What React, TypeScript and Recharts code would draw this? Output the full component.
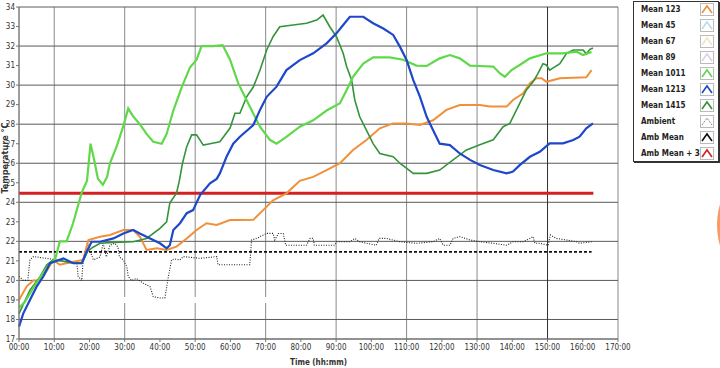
import { LineChart, Line, XAxis, YAxis, CartesianGrid, ReferenceLine } from 'recharts';

// hours since start / temperature (°C)
const mean123T = [0, 2.2, 4.1, 6, 7.9, 9.7, 11.6, 15.4, 18.2, 19.7, 23, 25.8, 29.6, 32.4, 34.3, 36.2, 39.1, 41.9, 44.7, 47.6, 50.4, 53.2, 56.1, 59.9, 62.7, 66.5, 69.3, 72.1, 75.9, 79.7, 83.5, 87.3, 91.1, 94.8, 98.6, 102.4, 106.2, 110, 113.8, 117.5, 121.3, 125.1, 130.8, 133.6, 138.4, 140.2, 143.1, 145, 146.9, 148.3, 149.7, 153.5, 161, 162.5];
const mean123V = [19.0, 19.7, 20.0, 20.0, 20.5, 21.05, 20.8, 20.96, 21.05, 22.07, 22.24, 22.33, 22.58, 22.58, 22.24, 21.56, 21.64, 21.56, 21.73, 22.15, 22.58, 22.93, 22.84, 23.09, 23.09, 23.1, 23.6, 24.1, 24.46, 25.1, 25.3, 25.65, 26.0, 26.68, 27.19, 27.79, 28.04, 28.04, 27.96, 28.2, 28.73, 28.98, 28.98, 28.9, 28.9, 29.24, 29.58, 30.1, 30.35, 30.35, 30.17, 30.35, 30.4, 30.77];

const mean1011T = [0, 1.7, 4, 6.5, 8.5, 10.2, 11.6, 13.5, 15.3, 17.8, 19.3, 20.3, 21.3, 22.4, 23.8, 25, 25.8, 27.7, 29.6, 31, 32.4, 34.3, 36.2, 38.1, 40.5, 41.9, 43.8, 46.2, 48.5, 50.4, 51.8, 55.1, 57.8, 59.9, 62.2, 65.5, 68.4, 71.2, 73.1, 75.9, 79.7, 83.5, 87.3, 91.1, 93, 94.8, 97.7, 100.5, 105.2, 109, 112.8, 115.7, 119.4, 122.3, 125.1, 128, 130.8, 134.6, 136.5, 137.9, 139.8, 142.1, 145, 149.7, 154.4, 158.2, 160.1, 162.5];
const mean1011V = [18.6, 18.9, 19.6, 20.3, 20.8, 21.05, 22.0, 22.0, 22.9, 24.5, 25.1, 27.0, 26.2, 25.2, 24.9, 25.3, 26.0, 26.85, 27.9, 28.8, 28.4, 28.0, 27.5, 27.1, 27.0, 27.5, 28.7, 29.9, 30.9, 31.3, 32.0, 32.0, 32.05, 31.3, 30.1, 28.9, 27.87, 27.2, 27.0, 27.35, 27.87, 28.2, 28.7, 29.07, 29.75, 30.43, 31.1, 31.42, 31.42, 31.3, 31.0, 30.98, 31.37, 31.54, 31.37, 31.0, 30.98, 30.95, 30.6, 30.43, 30.77, 31.03, 31.37, 31.63, 31.63, 31.71, 31.54, 31.7];

const mean1213T = [0, 1.2, 3.1, 5, 6.9, 8.8, 12.6, 15.4, 17.8, 19.2, 20.6, 23, 26.8, 29.6, 32.4, 34.3, 37.2, 40, 41.9, 42.8, 43.8, 45.7, 47.6, 49.4, 51.4, 54.2, 56.1, 57, 58.9, 60.8, 62.7, 66.5, 68.4, 70.3, 73.1, 75.9, 79.7, 83.5, 87.3, 90.1, 92, 93.9, 97.7, 100.5, 103.4, 106.2, 108.1, 110, 111.9, 113.8, 115.7, 117.5, 119.4, 122.3, 125.1, 128, 130.8, 134.6, 138.4, 140.2, 142.1, 145, 147.8, 150.6, 154.4, 157.3, 159.1, 161, 162.9];
const mean1213V = [17.63, 18.3, 19.0, 19.68, 20.2, 20.88, 21.13, 20.88, 20.88, 21.47, 21.98, 21.98, 22.15, 22.4, 22.58, 22.4, 22.15, 21.9, 21.64, 21.8, 22.58, 22.93, 23.44, 23.6, 24.37, 24.97, 25.2, 25.48, 26.33, 27.0, 27.36, 27.96, 28.73, 29.4, 29.92, 30.77, 31.28, 31.63, 32.14, 32.65, 33.08, 33.5, 33.5, 33.17, 32.9, 32.57, 31.97, 31.29, 30.26, 29.4, 28.38, 27.7, 27.0, 26.93, 26.5, 26.17, 25.91, 25.65, 25.48, 25.57, 25.9, 26.33, 26.59, 27.02, 27.02, 27.19, 27.36, 27.79, 28.04];

const mean1415T = [0, 3.1, 6, 7.9, 9.7, 12, 15, 18, 19.5, 21, 23, 27, 32.4, 36.2, 40, 41.9, 42.8, 44.7, 45.5, 46.4, 47.6, 49, 50.4, 52.3, 54.2, 57, 59.9, 61.3, 62.7, 64.6, 66.5, 68.4, 70.3, 72.1, 74, 77.8, 81.6, 84.5, 86.3, 88.2, 90.1, 92, 93, 94.4, 95.3, 96.7, 98.6, 100.5, 102.4, 106.2, 108.1, 111.9, 115.7, 119.4, 123.2, 127, 130.8, 134.6, 137.4, 139.3, 141.2, 142.6, 144, 145.9, 147.3, 148.7, 149.7, 150.6, 153.5, 155.4, 157.3, 160.1, 161, 162, 162.9];
const mean1415V = [18.3, 19.5, 20.2, 20.8, 21.05, 21.0, 20.9, 20.9, 21.5, 21.7, 21.9, 21.95, 21.98, 22.15, 22.67, 23.0, 23.96, 24.47, 25.1, 26.0, 26.85, 27.45, 27.45, 26.93, 27.0, 27.1, 27.8, 28.56, 28.56, 29.4, 29.9, 30.77, 31.8, 32.48, 32.99, 33.08, 33.17, 33.33, 33.59, 32.99, 32.48, 31.63, 30.94, 30.26, 29.24, 28.38, 27.7, 27.0, 26.5, 26.33, 26.0, 25.48, 25.48, 25.65, 26.17, 26.68, 26.95, 27.2, 27.87, 28.04, 28.73, 29.24, 29.75, 30.17, 30.6, 31.1, 31.03, 30.77, 31.1, 31.63, 31.8, 31.8, 31.6, 31.83, 31.9];

const ambientT = [0, 1.2, 2.5, 3.1, 4.1, 6.9, 9, 12, 16.4, 16.8, 17.8, 18.2, 19.4, 20.2, 21.1, 23, 23.9, 24.8, 25.8, 27.2, 28.1, 28.5, 29.6, 30.6, 31, 32, 33.3, 35.3, 37.2, 38.1, 40, 41.4, 42.4, 43.3, 44.2, 45.7, 46.6, 51.4, 56.1, 56.5, 65.5, 66, 67.4, 70.3, 72.1, 72.6, 73.6, 75, 75.7, 81.6, 82.6, 83.5, 83.8, 89.6, 90.1, 93.9, 95.3, 96.7, 101.4, 102.2, 104.3, 108.1, 112.8, 117.5, 119.4, 120.4, 122.3, 123.2, 125.1, 128, 130.8, 134.6, 138.4, 140.2, 143.1, 145, 145.9, 146.4, 147.8, 150.2, 150.8, 152.5, 155.4, 158.2, 159.1, 162.5];
const ambientV = [20.2, 20.0, 20.0, 21.05, 21.22, 21.15, 21.1, 21.0, 20.9, 20.2, 20.0, 21.0, 21.9, 21.5, 21.05, 21.2, 21.9, 21.2, 21.8, 21.9, 21.7, 21.2, 21.05, 20.7, 20.2, 20.0, 20.1, 19.85, 19.68, 19.17, 19.1, 19.1, 20.2, 21.05, 21.1, 21.05, 21.22, 21.13, 21.22, 20.8, 20.8, 22.07, 22.15, 22.41, 22.41, 22.07, 22.4, 22.4, 21.8, 21.8, 22.15, 22.15, 21.8, 21.8, 21.98, 21.98, 22.15, 21.98, 21.8, 22.15, 22.15, 21.98, 21.9, 21.98, 22.15, 21.8, 21.8, 22.15, 22.24, 22.07, 21.98, 21.9, 21.8, 21.98, 21.98, 22.15, 22.24, 21.9, 21.9, 21.8, 22.33, 22.15, 22.07, 21.98, 21.9, 21.98];

const ambMeanT = [0, 162.5];
const ambMeanV = [21.46, 21.46];
const ambMean3T = [0, 163];
const ambMean3V = [24.46, 24.46];

const xTicks = [0, 10, 20, 30, 40, 50, 60, 70, 80, 90, 100, 110, 120, 130, 140, 150, 160, 170];
const yTicks = [17, 18, 19, 20, 21, 22, 23, 24, 25, 26, 27, 28, 29, 30, 31, 32, 33, 34];

const legendNames = ['Mean 123', 'Mean 45', 'Mean 67', 'Mean 89', 'Mean 1011', 'Mean 1213', 'Mean 1415', 'Ambient', 'Amb Mean', 'Amb Mean + 3'];
const legendColors = ['#f0903a', '#b8dcec', '#efe6c4', '#ddd0e4', '#5fd94a', '#1f48c8', '#34943a', '#666', '#111', '#d42020'];

const pts = (t: number[], v: number[]) => t.map((x, i) => ({ t: x, v: v[i] }));

const font = "'Liberation Sans Narrow', 'DejaVu Sans Condensed', 'Arial Narrow', sans-serif";
const tickStyle = { fontSize: 8, fill: '#333', fontFamily: font };

function ChartLegend() {
  return (
    <div style={{
      position: 'absolute', left: 633, top: 1, width: 84, height: 159,
      border: '1px solid #333', boxShadow: '1px 1px 0 #333', background: '#fff',
      fontFamily: font, fontSize: 8, fontWeight: 'bold', color: '#222',
    }}>
      {legendNames.map((name, i) => (
        <div key={name} style={{ position: 'absolute', left: 7, top: 1 + i * 16, height: 14, width: 76 }}>
          <span style={{ position: 'absolute', left: 0, top: 2 }}>{name}</span>
          <svg width={14} height={13} style={{ position: 'absolute', left: 59, top: 0 }}>
            <rect x={0.5} y={0.5} width={13} height={12} fill="#fff" stroke="#bbb" />
            <polyline points="2,10 7,3 12,10" fill="none" stroke={legendColors[i]} strokeWidth={i === 7 ? 1 : 1.6}
              strokeDasharray={i === 7 ? '1 1' : undefined} />
          </svg>
        </div>
      ))}
    </div>
  );
}

export default function App() {
  return (
    <div style={{ position: 'absolute', left: 0, top: 0, width: 720, height: 368, background: '#fff', overflow: 'hidden' }}>
      <LineChart width={720} height={368} margin={{ top: 7, right: 102, bottom: 0, left: 0 }}>
        <CartesianGrid stroke="#8a8a8a" horizontal={false} />
        <CartesianGrid stroke="#5a5a5a" vertical={false} />
        <XAxis
          dataKey="t" type="number" domain={[0, 170]} ticks={xTicks} height={29}
          tickFormatter={(h: number) => `${h === 0 ? '00' : h}:00`}
          tick={tickStyle} tickSize={3} tickMargin={2} stroke="#777"
          label={{ value: 'Time (hh:mm)', position: 'insideBottom', offset: 3, style: { fontSize: 8, fontWeight: 'bold', fill: '#333', fontFamily: font } }}
        />
        <YAxis
          type="number" domain={[17, 34]} ticks={yTicks} width={19}
          tick={tickStyle} tickSize={3} tickMargin={1} stroke="#777"
          label={{
            content: () => (
              <text x={5} y={158} transform="rotate(-90 5 158)" textAnchor="middle" dominantBaseline="middle"
                style={{ fontSize: 9, fontWeight: 'bold', fill: '#333', fontFamily: font }}>
                Temperature °C
              </text>
            ),
          }}
        />
        <ReferenceLine x={150} stroke="#333" />
        <ReferenceLine segment={[{ x: 28.7, y: 19 }, { x: 80.3, y: 19 }]} stroke="#fff" strokeWidth={6} ifOverflow="visible"
          strokeDasharray="22 5 17 6 15 7 16 6 20 6 12 6 9 5 17 6" />
        <Line data={pts(ambMean3T, ambMean3V)} dataKey="v" stroke="#d42020" strokeWidth={3} dot={false} isAnimationActive={false} />
        <Line data={pts(ambMeanT, ambMeanV)} dataKey="v" stroke="#111" strokeWidth={1.6} strokeDasharray="3 2" dot={false} isAnimationActive={false} />
        <Line data={pts(ambientT, ambientV)} dataKey="v" stroke="#222" strokeWidth={1.1} strokeDasharray="1 1.5" dot={false} isAnimationActive={false} />
        <Line data={pts(mean123T, mean123V)} dataKey="v" stroke="#f0903a" strokeWidth={2} dot={false} isAnimationActive={false} />
        <Line data={pts(mean1415T, mean1415V)} dataKey="v" stroke="#34943a" strokeWidth={1.6} dot={false} isAnimationActive={false} />
        <Line data={pts(mean1011T, mean1011V)} dataKey="v" stroke="#5fd94a" strokeWidth={2.2} dot={false} isAnimationActive={false} />
        <Line data={pts(mean1213T, mean1213V)} dataKey="v" stroke="#1f48c8" strokeWidth={2.2} dot={false} isAnimationActive={false} />
      </LineChart>
      <ChartLegend />
      <div style={{ position: 'absolute', left: 717, top: 152, width: 146, height: 146, borderRadius: '50%', background: '#f99a63' }} />
    </div>
  );
}
